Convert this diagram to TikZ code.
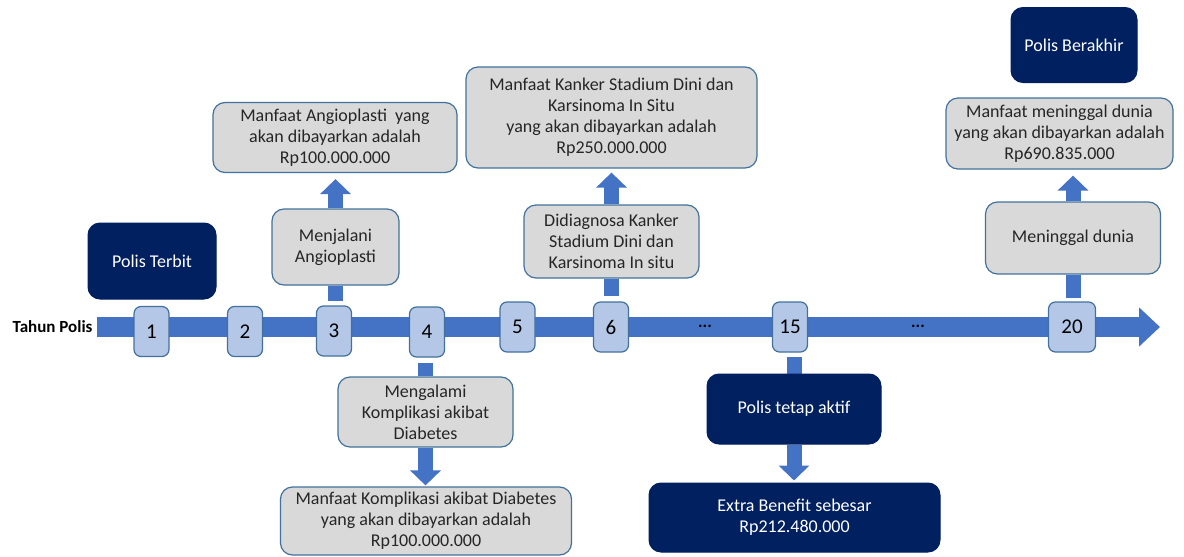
\documentclass[tikz,border=0pt]{standalone}
\usepackage{fontspec}
\setmainfont{Carlito}
\usetikzlibrary{arrows.meta}
\pgfdeclarelayer{background}
\pgfsetlayers{background,main}
\definecolor{barblue}{HTML}{4472C4}
\definecolor{yearfill}{HTML}{B4C7E7}
\definecolor{yearline}{HTML}{41719C}
\definecolor{grayfill}{HTML}{D9D9D9}
\definecolor{grayline}{HTML}{41719C}
\definecolor{navy}{HTML}{002060}
\definecolor{txt}{HTML}{262626}
\tikzset{
  graybox/.style={draw=grayline, line width=1.2pt, fill=grayfill, rounded corners=12pt,
    align=center, text=txt, inner sep=0pt, font=\fontsize{18}{21}\selectfont},
  darkbox/.style={draw=navy, line width=1pt, fill=navy, rounded corners=12pt,
    align=center, text=white, inner sep=0pt, font=\fontsize{18}{21}\selectfont},
  yearbox/.style={draw=yearline, line width=1.2pt, fill=yearfill, rounded corners=7pt,
    minimum width=35pt, minimum height=50pt, inner sep=0pt, text=black,
    font=\fontsize{21}{24}\selectfont},
  stem/.style={draw=barblue, line width=15pt},
  blockarrow/.style={stem, -{Triangle[width=30pt,length=15pt]}},
  dots/.style={text=black, font=\bfseries\fontsize{17}{20}\selectfont}
}
\begin{document}
\begin{tikzpicture}[x=1pt,y=-1pt]
\useasboundingbox (0,0) rectangle (1184,557);
% timeline
\coordinate (tstart) at (97,327);
\coordinate (tend) at (1160,327);
\node[anchor=east, font=\bfseries\fontsize{17}{20}\selectfont, text=black] (tp) at (96,327) {Tahun Polis};
% year boxes
\node[yearbox] (y1) at (151.5,331.5) {1};
\node[yearbox] (y2) at (245,331.5) {2};
\node[yearbox] (y3) at (334,331) {3};
\node[yearbox] (y4) at (427,332) {4};
\node[yearbox] (y5) at (517.5,327) {5};
\node[yearbox] (y6) at (611,327) {6};
\node[yearbox] (y15) at (790,327) {15};
\node[yearbox, minimum width=47pt] (y20) at (1072,327) {20};
\node[dots] (d1) at (705,326) {...};
\node[dots] (d2) at (918,326) {...};
% upper boxes
\node[darkbox, minimum width=128pt, minimum height=76pt] (terbit) at (152,261) {Polis Terbit};
\node[graybox, minimum width=127pt, minimum height=76pt] (menj) at (335.5,247) {Menjalani\\Angioplasti};
\node[graybox, minimum width=244pt, minimum height=70pt] (mang) at (335,137.5) {Manfaat Angioplasti\ \ yang\\akan dibayarkan adalah\\Rp100.000.000};
\node[graybox, minimum width=291pt, minimum height=101pt] (mkanker) at (611.5,117.5) {Manfaat Kanker Stadium Dini dan\\Karsinoma In Situ\\yang akan dibayarkan adalah\\Rp250.000.000};
\node[graybox, minimum width=175pt, minimum height=73pt] (didiag) at (611.5,241.5) {Didiagnosa Kanker\\Stadium Dini dan\\Karsinoma In situ};
\node[darkbox, minimum width=126pt, minimum height=75pt] (berakhir) at (1074,45) {Polis Berakhir};
\node[graybox, minimum width=227pt, minimum height=71pt] (mmen) at (1059.5,133.5) {Manfaat meninggal dunia\\yang akan dibayarkan adalah\\Rp690.835.000};
\node[graybox, minimum width=175pt, minimum height=72pt] (meninggal) at (1073,238) {Meninggal dunia};
% lower boxes
\node[graybox, minimum width=175pt, minimum height=70pt] (mengalami) at (425.5,412) {Mengalami\\Komplikasi akibat\\Diabetes};
\node[graybox, minimum width=291pt, minimum height=68pt] (mkompl) at (426,521) {Manfaat Komplikasi akibat Diabetes\\yang akan dibayarkan adalah\\Rp100.000.000};
\node[darkbox, minimum width=174pt, minimum height=70pt] (aktif) at (794,409) {Polis tetap aktif};
\node[darkbox, minimum width=291pt, minimum height=69pt] (extra) at (794.5,517.5) {Extra Benefit sebesar\\Rp212.480.000};
% connectors
\begin{pgfonlayer}{background}
\draw[barblue, line width=20pt, -{Triangle[width=38pt,length=21pt]}] (tstart) -- (tend);
\draw[stem, shorten >=4pt] (menj.south) -- (menj.south |- y3.north);
\draw[stem, shorten >=5pt] (didiag.south) -- (didiag.south |- y6.north);
\draw[stem, shorten >=3pt] (meninggal.south) -- (meninggal.south |- y20.north);
\draw[stem, shorten >=5pt] (mengalami.north) -- (mengalami.north |- y4.south);
\draw[stem, shorten >=4pt] (aktif.north) -- (aktif.north |- y15.south);
\draw[blockarrow, shorten >=6pt] (menj.north) -- (menj.north |- mang.south);
\draw[blockarrow, shorten >=4pt] (didiag.north) -- (didiag.north |- mkanker.south);
\draw[blockarrow, shorten >=6pt] (meninggal.north) -- (meninggal.north |- mmen.south);
\draw[blockarrow, shorten >=1pt] (mengalami.south) -- (mengalami.south |- mkompl.north);
\draw[blockarrow, shorten >=2pt] (aktif.south) -- (aktif.south |- extra.north);
\end{pgfonlayer}
\end{tikzpicture}
\end{document}
